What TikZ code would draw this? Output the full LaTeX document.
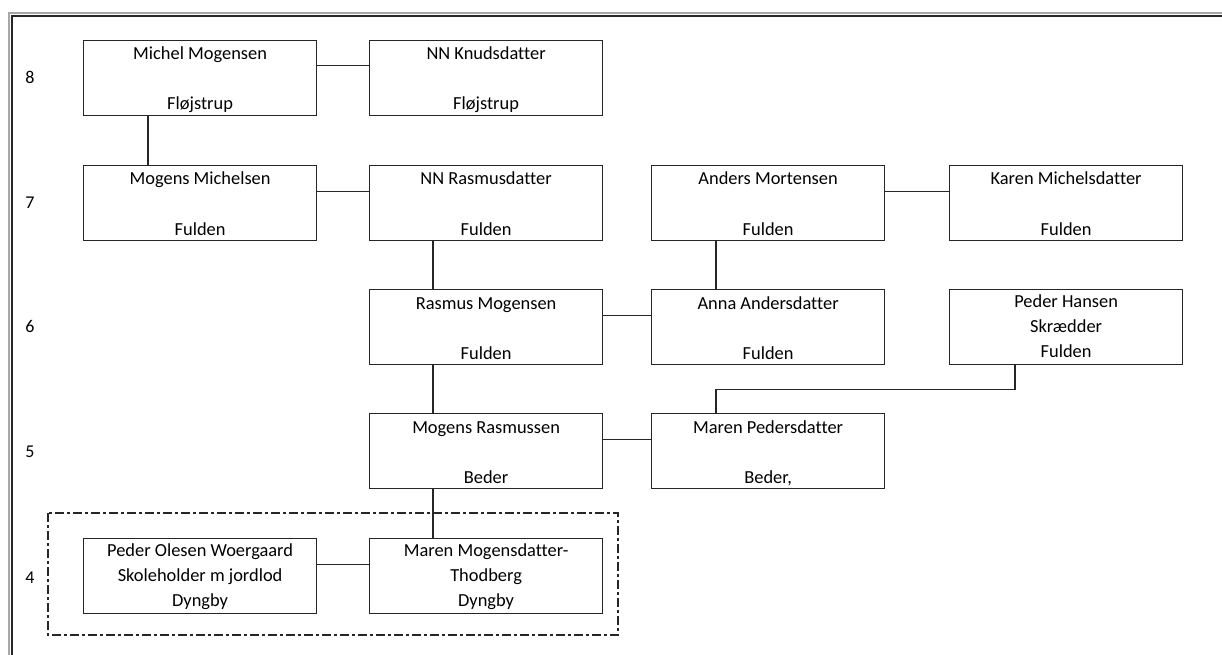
\documentclass[tikz,border=0pt]{standalone}
\usepackage{fontspec}
\setmainfont[Ligatures=NoCommon]{Carlito}
\begin{document}
\begin{tikzpicture}[x=1pt,y=-1pt,
  pbox/.style={draw=black!85,line width=1.2pt,rectangle,minimum width=233pt,minimum height=75pt,inner sep=0pt,anchor=north west},
  txt/.style={anchor=base,font=\fontsize{18.4}{25}\selectfont,text=black,inner sep=0pt},
  gen/.style={anchor=base,font=\fontsize{18}{22}\selectfont,text=black,inner sep=0pt},
  conn/.style={draw=black!85,line width=1.1pt}]
\useasboundingbox (0,0) rectangle (1222,655);
\fill[white] (0,0) rectangle (1222,655);
% frame
\draw[gray!70,line width=1.3pt] (9,655) -- (9,13) -- (1222,13);
\draw[black!85,line width=1.5pt] (12,655) -- (12,16) -- (1222,16);
% generation numbers
\node[gen] (g8) at (30,84) {8};
\node[gen] (g7) at (30,208) {7};
\node[gen] (g6) at (30,332) {6};
\node[gen] (g5) at (30,457) {5};
\node[gen] (g4) at (30,583) {4};
% dashed group
\draw[black!85,line width=1.1pt,dash pattern=on 9pt off 3pt on 3pt off 3pt] (48,513) rectangle (618,635);
% boxes
\node[pbox] (mm) at (83,40) {};
\node[pbox] (nk) at (369,40) {};
\node[pbox] (mmi) at (83,165) {};
\node[pbox] (nr) at (369,165) {};
\node[pbox] (am) at (651,165) {};
\node[pbox] (km) at (949,165) {};
\node[pbox] (rm) at (369,289) {};
\node[pbox] (aa) at (651,289) {};
\node[pbox] (ph) at (949,289) {};
\node[pbox] (mr) at (369,413) {};
\node[pbox] (mp) at (651,413) {};
\node[pbox] (pw) at (83,538) {};
\node[pbox] (mt) at (369,538) {};
% texts (first baseline 20 below top, lines 25 apart)
\node[txt] (mm1) at ([yshift=-20pt]mm.north) {Michel Mogensen};
\node[txt] (mm3) at ([yshift=-70pt]mm.north) {Fløjstrup};
\node[txt] (nk1) at ([yshift=-20pt]nk.north) {NN Knudsdatter};
\node[txt] (nk3) at ([yshift=-70pt]nk.north) {Fløjstrup};
\node[txt] (mmi1) at ([yshift=-20pt]mmi.north) {Mogens Michelsen};
\node[txt] (mmi3) at ([yshift=-70pt]mmi.north) {Fulden};
\node[txt] (nr1) at ([yshift=-20pt]nr.north) {NN Rasmusdatter};
\node[txt] (nr3) at ([yshift=-70pt]nr.north) {Fulden};
\node[txt] (am1) at ([yshift=-20pt]am.north) {Anders Mortensen};
\node[txt] (am3) at ([yshift=-70pt]am.north) {Fulden};
\node[txt] (km1) at ([yshift=-20pt]km.north) {Karen Michelsdatter};
\node[txt] (km3) at ([yshift=-70pt]km.north) {Fulden};
\node[txt] (rm1) at ([yshift=-20pt]rm.north) {Rasmus Mogensen};
\node[txt] (rm3) at ([yshift=-70pt]rm.north) {Fulden};
\node[txt] (aa1) at ([yshift=-20pt]aa.north) {Anna Andersdatter};
\node[txt] (aa3) at ([yshift=-70pt]aa.north) {Fulden};
\node[txt] (ph1) at ([yshift=-18pt]ph.north) {Peder Hansen};
\node[txt] (ph2) at ([yshift=-43pt]ph.north) {Skrædder};
\node[txt] (ph3) at ([yshift=-68pt]ph.north) {Fulden};
\node[txt] (mr1) at ([yshift=-20pt]mr.north) {Mogens Rasmussen};
\node[txt] (mr3) at ([yshift=-70pt]mr.north) {Beder};
\node[txt] (mp1) at ([yshift=-20pt]mp.north) {Maren Pedersdatter};
\node[txt] (mp3) at ([yshift=-70pt]mp.north) {Beder,};
\node[txt] (pw1) at ([yshift=-18pt]pw.north) {Peder Olesen Woergaard};
\node[txt] (pw2) at ([yshift=-43pt]pw.north) {Skoleholder m jordlod};
\node[txt] (pw3) at ([yshift=-68pt]pw.north) {Dyngby};
\node[txt] (mt1) at ([yshift=-18pt]mt.north) {Maren Mogensdatter-};
\node[txt] (mt2) at ([yshift=-43pt]mt.north) {Thodberg};
\node[txt] (mt3) at ([yshift=-68pt]mt.north) {Dyngby};
% connectors
\draw[conn] (mm.east) ++(0,-13) coordinate (c1) -- (c1 -| nk.west);
\draw[conn] (mm.south west) ++(65,0) coordinate (c2) -- (c2 |- mmi.north);
\draw[conn] (mmi.east) ++(0,-12) coordinate (c3) -- (c3 -| nr.west);
\draw[conn] (nr.south west) ++(64,0) coordinate (c4) -- (c4 |- rm.north);
\draw[conn] (am.east) ++(0,-12) coordinate (c5) -- (c5 -| km.west);
\draw[conn] (am.south west) ++(65,0) coordinate (c6) -- (c6 |- aa.north);
\draw[conn] (rm.east) ++(0,-12) coordinate (c7) -- (c7 -| aa.west);
\draw[conn] (ph.south west) ++(66,0) coordinate (c8) -- ++(0,24) coordinate (c9) -- (c9 -| c6) coordinate (c10) -- (c10 |- mp.north);
\draw[conn] (rm.south west) ++(64,0) coordinate (c11) -- (c11 |- mr.north);
\draw[conn] (mr.east) ++(0,-12) coordinate (c12) -- (c12 -| mp.west);
\draw[conn] (mr.south west) ++(64,0) coordinate (c13) -- (c13 |- mt.north);
\draw[conn] (pw.east) ++(0,-12) coordinate (c14) -- (c14 -| mt.west);
\end{tikzpicture}
\end{document}
